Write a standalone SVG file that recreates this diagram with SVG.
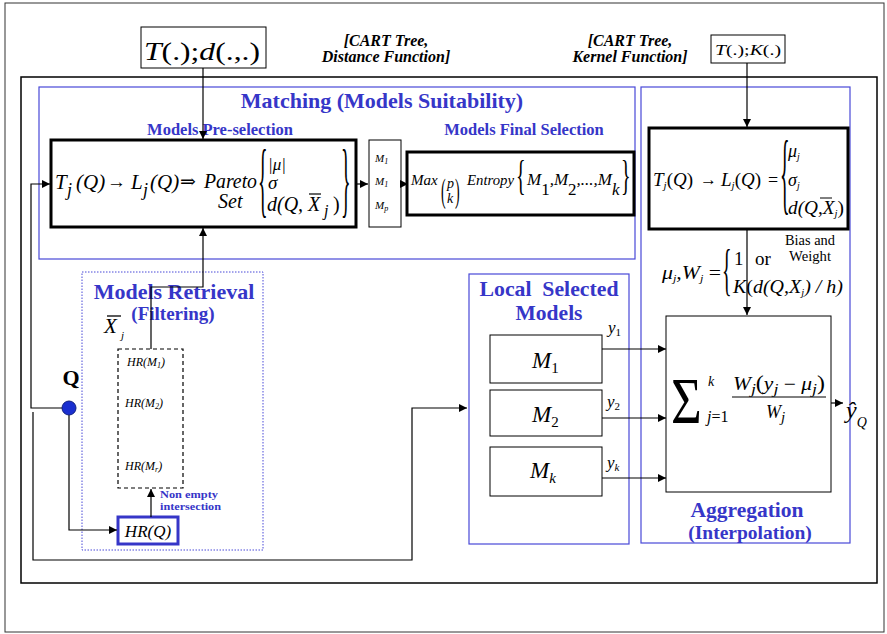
<svg xmlns="http://www.w3.org/2000/svg" width="887" height="634" viewBox="0 0 887 634">
<defs>
<marker id="ah" viewBox="0 0 10 10" refX="10" refY="5" markerWidth="8" markerHeight="8" markerUnits="userSpaceOnUse" orient="auto">
<path d="M0,0 L10,5 L0,10 z" fill="#000"/>
</marker>
</defs>
<style>
text{font-family:'Liberation Serif','Times New Roman','DejaVu Serif',serif}
.mi{font-style:italic;fill:#000}
.rm{font-style:normal;fill:#000}
.bt{font-weight:bold;fill:#3636c8}
.ci{font-weight:bold;font-style:italic;font-size:16px;fill:#000}
.thick{fill:#fff;stroke:#000;stroke-width:3}
.thin{fill:#fff;stroke:#000;stroke-width:1}
.blue{fill:none;stroke:#4848d8;stroke-width:1.2}
.conn{fill:none;stroke:#000;stroke-width:1.2}
</style>
<rect x="5" y="3" width="879" height="629" fill="#fff" stroke="#333" stroke-width="1"/>
<rect x="21" y="77" width="856" height="506" fill="none" stroke="#000" stroke-width="1.5"/>

<g id="matching">
<rect class="blue" x="39" y="87" width="596" height="172"/>
<text class="bt" x="382" y="108" font-size="22" text-anchor="middle">Matching (Models Suitability)</text>
<text class="bt" x="220" y="135" font-size="16.5" text-anchor="middle">Models Pre-selection</text>
<text class="bt" x="524" y="135" font-size="16.5" text-anchor="middle">Models Final Selection</text>
</g>

<g id="aggregation">
<rect class="blue" x="641" y="87" width="209" height="456"/>
<text class="bt" x="747" y="517" font-size="21.5" text-anchor="middle">Aggregation</text>
<text class="bt" x="750" y="539" font-size="19.5" text-anchor="middle">(Interpolation)</text>
</g>

<g id="local-models">
<rect class="blue" x="469" y="274" width="160" height="270"/>
<text class="bt" x="549" y="296" font-size="21" text-anchor="middle" textLength="139" lengthAdjust="spacingAndGlyphs" xml:space="preserve">Local  Selected</text>
<text class="bt" x="549" y="320" font-size="21" text-anchor="middle" textLength="67" lengthAdjust="spacingAndGlyphs">Models</text>
</g>

<g id="retrieval">
<rect x="82" y="272" width="181" height="278" fill="none" stroke="#4848d8" stroke-width="1" stroke-dasharray="1.5,1.5"/>
<text class="bt" x="174" y="299" font-size="22" text-anchor="middle">Models Retrieval</text>
<text class="bt" x="173" y="320" font-size="19" text-anchor="middle">(Filtering)</text>
<text class="mi" x="104" y="333" font-size="21">X</text>
<line x1="107" y1="316" x2="121" y2="316" stroke="#000" stroke-width="1.3"/>
<text class="mi" x="121" y="339" font-size="11">j</text>
<text class="bt" x="160" y="498" font-size="11" textLength="58" lengthAdjust="spacingAndGlyphs">Non empty</text>
<text class="bt" x="160" y="510" font-size="11" textLength="61" lengthAdjust="spacingAndGlyphs">intersection</text>
</g>

<g id="td-input">
<rect class="thin" x="141" y="27" width="125" height="41"/>
<text class="mi" x="144" y="60" font-size="25" textLength="116" lengthAdjust="spacingAndGlyphs">T<tspan class="rm">(.);</tspan>d<tspan class="rm">(.,.)</tspan></text>
</g>

<g id="cart-distance">
<text class="ci" x="386" y="46" text-anchor="middle">[CART Tree,</text>
<text class="ci" x="386" y="62" text-anchor="middle">Distance Function]</text>
</g>

<g id="cart-kernel">
<text class="ci" x="630" y="46" text-anchor="middle">[CART Tree,</text>
<text class="ci" x="630" y="62" text-anchor="middle">Kernel Function]</text>
</g>

<g id="tk-input">
<rect class="thin" x="711" y="35" width="74" height="28"/>
<text class="mi" x="715" y="55" font-size="15" textLength="66" lengthAdjust="spacingAndGlyphs">T<tspan class="rm">(.);</tspan>K<tspan class="rm">(.)</tspan></text>
</g>

<g id="pareto">
<rect class="thick" x="51" y="140" width="305" height="87"/>
<text class="mi" x="55" y="189" font-size="21">T</text>
<text class="mi" x="67" y="196" font-size="18">j</text>
<text class="mi" x="76" y="189" font-size="21">(Q)</text>
<text class="rm" x="107" y="188" font-size="19">→</text>
<text class="mi" x="131" y="189" font-size="21">L</text>
<text class="mi" x="143" y="196" font-size="18">j</text>
<text class="mi" x="150" y="189" font-size="21">(Q)</text>
<text class="rm" x="180" y="188" font-size="19">⇒</text>
<text class="mi" x="204" y="188" font-size="20" textLength="53" lengthAdjust="spacingAndGlyphs">Pareto</text>
<text class="mi" x="218" y="208" font-size="20">Set</text>
<text class="rm" font-size="20" transform="translate(258,207) scale(1,4.1)">{</text>
<text class="mi" x="268" y="170" font-size="17">|μ|</text>
<text class="mi" x="268" y="189" font-size="19">σ</text>
<text class="mi" x="267" y="211" font-size="20">d(Q, X</text>
<line x1="309" y1="194" x2="321" y2="194" stroke="#000" stroke-width="1.2"/>
<text class="mi" x="324" y="216" font-size="16">j</text>
<text class="rm" x="333" y="211" font-size="20">)</text>
<text class="rm" font-size="20" transform="translate(341,207) scale(1,4.1)">}</text>
</g>

<g id="model-list">
<rect class="thin" x="369" y="140" width="32" height="87"/>
<text class="mi" x="375" y="162" font-size="11">M<tspan font-size="8" dy="2">1</tspan></text>
<text class="mi" x="375" y="185" font-size="11">M<tspan font-size="8" dy="2">1</tspan></text>
<text class="mi" x="375" y="209" font-size="11">M<tspan font-size="8" dy="2">p</tspan></text>
</g>

<g id="final-selection">
<rect class="thick" x="407" y="152" width="227" height="63"/>
<text class="mi" x="411" y="185" font-size="15">Max</text>
<text class="rm" font-size="14" transform="translate(441,202) scale(1,2.4)">(</text>
<text class="mi" x="447" y="188" font-size="14">p</text>
<text class="mi" x="447" y="203" font-size="14">k</text>
<text class="rm" font-size="14" transform="translate(455,202) scale(1,2.4)">)</text>
<text class="mi" x="467" y="185" font-size="14" textLength="47" lengthAdjust="spacingAndGlyphs">Entropy</text>
<text class="rm" font-size="20" transform="translate(516,189) scale(1,2.1)">{</text>
<text class="mi" x="527" y="185" font-size="17">M<tspan class="rm" dy="10">1</tspan><tspan dy="-10">,M</tspan><tspan class="rm" dy="10">2</tspan><tspan dy="-10">,...,M</tspan><tspan dy="10">k</tspan></text>
<text class="rm" font-size="20" transform="translate(621,189) scale(1,2.1)">}</text>
</g>

<g id="local-params">
<rect class="thick" x="649" y="128" width="199" height="101"/>
<text class="mi" x="653" y="186" font-size="19">T<tspan font-size="11" dy="3">j</tspan><tspan class="rm" dy="-3">(</tspan>Q<tspan class="rm">)</tspan></text>
<text class="rm" x="700" y="185" font-size="17">→</text>
<text class="mi" x="721" y="186" font-size="19">L<tspan font-size="11" dy="3">j</tspan><tspan class="rm" dy="-3">(</tspan>Q<tspan class="rm">)</tspan></text>
<text class="rm" x="768" y="186" font-size="18">=</text>
<text class="rm" font-size="20" transform="translate(780,203) scale(1,4.6)">{</text>
<text class="mi" x="788" y="157" font-size="18">μ<tspan font-size="10" dy="3">j</tspan></text>
<text class="mi" x="788" y="186" font-size="18">σ<tspan font-size="10" dy="3">j</tspan></text>
<text class="mi" x="788" y="214" font-size="18" textLength="56" lengthAdjust="spacingAndGlyphs">d(Q,X<tspan font-size="10" dy="3">j</tspan><tspan class="rm" dy="-3">)</tspan></text>
<line x1="820" y1="198" x2="832" y2="198" stroke="#000" stroke-width="1"/>
<text class="rm" x="810" y="245" font-size="14" text-anchor="middle" textLength="50" lengthAdjust="spacingAndGlyphs">Bias and</text>
<text class="rm" x="810" y="261" font-size="14" text-anchor="middle" textLength="42" lengthAdjust="spacingAndGlyphs">Weight</text>
<text class="mi" x="662" y="279" font-size="18" textLength="59" lengthAdjust="spacingAndGlyphs">μ<tspan font-size="10" dy="3">j</tspan><tspan dy="-3">,W</tspan><tspan font-size="10" dy="3">j</tspan><tspan class="rm" dy="-3"> =</tspan></text>
<text class="rm" font-size="20" transform="translate(722,289) scale(1,2.8)">{</text>
<text class="rm" x="734" y="265" font-size="19">1</text>
<text class="rm" x="755" y="265" font-size="19">or</text>
<text class="mi" x="733" y="293" font-size="19" textLength="110" lengthAdjust="spacingAndGlyphs">K<tspan class="rm">(</tspan>d(Q,X<tspan font-size="10" dy="3">j</tspan><tspan dy="-3">) / h)</tspan></text>
</g>

<g id="aggregator">
<rect class="thin" x="666" y="316" width="165" height="176"/>
<text class="rm" font-size="66" transform="translate(671,423) scale(0.8,1)">Σ</text>
<text class="mi" x="708" y="386" font-size="14">k</text>
<text class="mi" x="707" y="422" font-size="16">j<tspan class="rm">=1</tspan></text>
<text class="mi" x="733" y="390" font-size="18" textLength="92" lengthAdjust="spacingAndGlyphs">W<tspan dy="4" font-size="15">j</tspan><tspan class="rm" dy="-4" font-size="20">(</tspan>y<tspan dy="4" font-size="15">j</tspan><tspan class="rm" dy="-4"> − </tspan>μ<tspan dy="4" font-size="15">j</tspan><tspan class="rm" dy="-4" font-size="20">)</tspan></text>
<line x1="732" y1="397" x2="826" y2="397" stroke="#000" stroke-width="1"/>
<text class="mi" x="766" y="418" font-size="18">W<tspan dy="4" font-size="15">j</tspan></text>
<text class="mi" x="846" y="418" font-size="24">ŷ<tspan font-size="14" dy="9">Q</tspan></text>
</g>

<g id="m1"><rect class="thin" x="490" y="335" width="112" height="48"/><text class="mi" x="532" y="368" font-size="23">M<tspan class="rm" font-size="15" dy="5">1</tspan></text></g>
<g id="m2"><rect class="thin" x="490" y="390" width="112" height="46"/><text class="mi" x="532" y="422" font-size="23">M<tspan class="rm" font-size="15" dy="5">2</tspan></text></g>
<g id="mk"><rect class="thin" x="490" y="447" width="112" height="49"/><text class="mi" x="530" y="478" font-size="23">M<tspan font-size="15" dy="5">k</tspan></text></g>

<g id="labels-y">
<text class="mi" x="608" y="333" font-size="17">y<tspan class="rm" font-size="11" dy="3">1</tspan></text>
<text class="mi" x="607" y="407" font-size="17">y<tspan class="rm" font-size="11" dy="3">2</tspan></text>
<text class="mi" x="607" y="468" font-size="17">y<tspan font-size="11" dy="3">k</tspan></text>
</g>

<g id="hyperrects">
<rect x="118" y="349" width="65" height="139" fill="#fff" stroke="#000" stroke-width="1.2" stroke-dasharray="4,3"/>
<text class="mi" x="127" y="366" font-size="12">HR(M<tspan font-size="8" dy="2">1</tspan><tspan dy="-2">)</tspan></text>
<text class="mi" x="125" y="407" font-size="12">HR(M<tspan font-size="8" dy="2">2</tspan><tspan dy="-2">)</tspan></text>
<text class="mi" x="125" y="470" font-size="12">HR(M<tspan font-size="8" dy="2">r</tspan><tspan dy="-2">)</tspan></text>
</g>

<g id="hrq">
<rect x="118" y="517" width="60" height="27" fill="#fff" stroke="#3636c8" stroke-width="3"/>
<text class="mi" x="148" y="537" font-size="17" text-anchor="middle">HR(Q)</text>
</g>

<g id="query">
<text class="rm" x="71" y="385" font-size="22" font-weight="bold" text-anchor="middle">Q</text>
</g>

<g id="connectors">
<path class="conn" d="M69,408 H31 V184 H50" marker-end="url(#ah)"/>
<path class="conn" d="M33,412 V560 H412 V408 H467" marker-end="url(#ah)"/>
<path class="conn" d="M69,415 V530 H117" marker-end="url(#ah)"/>
<path class="conn" d="M151,517 V489" marker-end="url(#ah)"/>
<path class="conn" d="M151,349 V287 H203 V228" marker-end="url(#ah)"/>
<path class="conn" d="M203,68 V139" marker-end="url(#ah)"/>
<path class="conn" d="M356,184 H368" marker-end="url(#ah)"/>
<path class="conn" d="M401,184 H408" marker-end="url(#ah)"/>
<path class="conn" d="M747,63 V127" marker-end="url(#ah)"/>
<path class="conn" d="M747,229 V315" marker-end="url(#ah)"/>
<path class="conn" d="M602,349 H666" marker-end="url(#ah)"/>
<path class="conn" d="M602,418 H666" marker-end="url(#ah)"/>
<path class="conn" d="M602,478 H666" marker-end="url(#ah)"/>
<path class="conn" d="M831,403 H843" marker-end="url(#ah)"/>
</g>
<circle cx="69" cy="408" r="7" fill="#1a2fd0" stroke="#102080" stroke-width="1"/>
</svg>
